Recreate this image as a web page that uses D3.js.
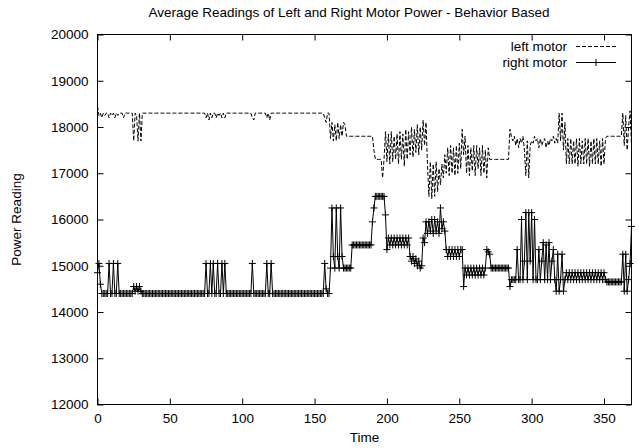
<!DOCTYPE html>
<html>
<head>
<meta charset="utf-8">
<script src="https://cdn.jsdelivr.net/npm/d3@7"></script>
<style>
  body { margin: 0; background: #fff; }
  svg text { font-family: "Liberation Sans", Arial, sans-serif; font-size: 13.5px; fill: #000; }
</style>
</head>
<body>
<div id="target"></div>
<script>
const chartTitle = "Average Readings of Left and Right Motor Power - Behavior Based"
const xLabel = "Time"
const yLabel = "Power Reading"
const seriesNames = ["left motor", "right motor"]
const xTicks = [0, 50, 100, 150, 200, 250, 300, 350]
const yTicks = [12000, 13000, 14000, 15000, 16000, 17000, 18000, 19000, 20000]

// left motor, one reading per time step (t = 0 .. 369)
const leftMotor = [
  18450,18250,18300,18200,18300,18250,18300,18300,18200,18300,18250,18300,18200,18300,18250,18300,18300,18300,18200,18300,18300,18300,18300,18300,
  18300,17700,18300,18250,17700,18300,17700,18300,
  18300,18300,18300,18300,18300,18300,18300,18300,18300,18300,18300,18300,18300,18300,18300,18300,18300,18300,18300,18300,18300,18300,
  18300,18300,18300,18300,18300,18300,18300,18300,18300,18300,18300,18300,18300,18300,18300,18300,18300,18300,18300,18300,18300,
  18200,18300,18150,18300,18200,18300,18300,18200,18300,18250,18300,18200,18300,18200,18300,
  18300,18300,18300,18300,18300,18300,18300,18300,18300,18300,18300,18300,18300,18300,18300,18300,18300,
  18200,18150,18300,
  18300,18300,18300,18300,18300,18300,18300,
  18200,18300,18150,18300,
  18300,18300,18300,18300,18300,18300,18300,18300,18300,18300,18300,18300,18300,18300,18300,18300,18300,18300,
  18300,18300,18300,18300,18300,18300,18300,18300,18300,18300,18300,18300,18300,18300,18300,18300,18300,18300,
  18200,18100,18300,18300,
  17750,18100,17700,18050,17700,18100,17750,18050,17800,18100,18050,17800,17800,17800,17800,
  17800,17800,17800,17800,17800,17800,17800,17800,17800,17800,17800,17800,17800,17800,17800,
  17500,17300,17300,17300,17300,17300,16900,17300,
  17900,17250,17850,17200,17900,17250,17800,17300,17850,17200,17900,17300,17850,17150,17950,
  17300,17900,17400,18000,17350,17950,17450,18050,17400,18000,17500,18150,17600,18100,
  17200,16500,17250,16450,17200,16500,17250,16600,17100,16750,
  17200,16900,17400,17000,17550,16950,17600,17000,17550,16950,17600,17000,17650,17100,17950,17400,17800,
  17000,17600,16950,17550,17050,17600,16950,17600,17100,17550,16950,17600,17000,17500,16900,17550,17300,
  17300,17300,17300,17300,17300,17300,17300,17300,17300,17300,17300,17300,17300,
  17950,17800,17700,17800,17600,17750,17550,17750,17650,17800,17500,16950,17700,16900,17600,17700,17650,17800,17700,17750,
  17550,17750,17600,17700,17750,17550,17700,17600,17750,17700,17800,17650,17750,17650,18300,17700,18300,17500,18100,17200,
  17750,17200,17750,17200,17700,17200,17750,17150,17750,17200,17700,17200,17750,17200,
  17750,17150,17700,17200,17750,17200,17750,17200,17700,17150,17750,17200,17750,
  17800,17800,17800,17800,17800,17800,17800,17800,17800,17800,17800,
  18300,17600,18250,17500,18000,18350,17600
]

// right motor, one reading per time step (t = 0 .. 369)
const rightMotor = [
  14850,15050,14600,14400,14400,14400,14400,14400,15050,14400,14400,15050,14400,14400,15050,14400,14400,14400,14400,14400,14400,14400,14400,14400,14400,
  14550,14450,14550,14450,14550,14450,14400,
  14400,14400,14400,14400,14400,14400,14400,14400,14400,14400,14400,14400,14400,14400,14400,14400,14400,14400,14400,14400,14400,14400,
  14400,14400,14400,14400,14400,14400,14400,14400,14400,14400,14400,14400,14400,14400,14400,14400,14400,14400,14400,14400,14400,
  15050,14400,14400,15050,14400,15050,14400,14400,15050,14400,14400,15050,14400,15050,14400,
  14400,14400,14400,14400,14400,14400,14400,14400,14400,14400,14400,14400,14400,14400,14400,14400,14400,
  15050,14400,14400,
  14400,14400,14400,14400,14400,14400,14400,
  15050,14400,14400,15050,14400,
  14400,14400,14400,14400,14400,14400,14400,14400,14400,14400,14400,14400,14400,14400,14400,14400,14400,14400,
  14400,14400,14400,14400,14400,14400,14400,14400,14400,14400,14400,14400,14400,14400,14400,14400,14400,
  15050,14500,14400,14400,
  14950,16250,15200,14950,16250,15200,14950,16250,15200,14950,14950,14950,14950,14950,14950,
  15450,15450,15450,15450,15450,15450,15450,15450,15450,15450,15450,15450,15450,15450,
  15950,16250,16500,16500,16500,16500,16500,16500,16500,16100,15350,
  15600,15450,15600,15450,15600,15450,15600,15450,15600,15450,15600,15450,15600,15450,
  15600,15200,15100,15200,15050,15150,15000,15100,14950,15000,15600,
  15500,15950,15700,15950,15750,16000,15700,16000,15750,15950,15700,16250,15800,15950,15750,
  15350,15200,15350,15200,15350,15200,15350,15200,15350,15200,15350,15350,
  14550,14950,14800,14950,14800,14950,14800,14950,14800,14950,14800,14950,14800,14950,14800,14950,
  15350,15300,15250,
  14950,14950,14950,14950,14950,14950,14950,14950,14950,14950,14950,14950,14950,
  14550,14700,14700,14700,14700,15350,14700,14700,16000,14700,15100,16150,14700,16150,15100,16150,14700,16000,14700,14700,
  15350,14700,15100,15500,14700,15450,14700,15500,14700,15100,15350,14700,14450,15250,14450,14700,15250,14450,14700,
  14850,14700,14850,14700,14850,14700,14850,14700,14850,14700,14850,14700,14850,14700,
  14850,14700,14850,14700,14850,14700,14850,14700,14850,14700,14850,14700,14850,14700,
  14650,14650,14650,14650,14650,14650,14650,14650,14650,14650,14650,
  15250,14450,15250,14450,14700,15050,15850
]

const width = 639
const height = 448
const plot = { left: 97.5, right: 631.5, top: 34.5, bottom: 404.5 }

const svg = d3.select("#target").append("svg")
    .attr("width", width)
    .attr("height", height)

const x = d3.scaleLinear()
    .domain([0, 369])
    .range([plot.left, plot.right])

const y = d3.scaleLinear()
    .domain([12000, 20000])
    .range([plot.bottom, plot.top])

const tickLen = 6

// axes, ticks pointing inward, mirrored on top and right
svg.append("g")
    .attr("transform", `translate(0,${plot.bottom})`)
    .call(d3.axisBottom(x).tickValues(xTicks).tickSize(-tickLen).tickPadding(9).tickFormat(d3.format("d")))
    .call(g => g.select(".domain").remove())

svg.append("g")
    .attr("transform", `translate(0,${plot.top})`)
    .call(d3.axisTop(x).tickValues(xTicks).tickSize(-tickLen).tickFormat(""))
    .call(g => g.select(".domain").remove())

svg.append("g")
    .attr("transform", `translate(${plot.left},0)`)
    .call(d3.axisLeft(y).tickValues(yTicks).tickSize(-tickLen).tickPadding(9).tickFormat(d3.format("d")))
    .call(g => g.select(".domain").remove())

svg.append("g")
    .attr("transform", `translate(${plot.right},0)`)
    .call(d3.axisRight(y).tickValues(yTicks).tickSize(-tickLen).tickFormat(""))
    .call(g => g.select(".domain").remove())

svg.selectAll(".tick line").attr("stroke", "#000")
svg.selectAll(".tick text").attr("font-size", 13.5).attr("font-family", "Liberation Sans, Arial, sans-serif")

svg.append("rect")
    .attr("x", plot.left)
    .attr("y", plot.top)
    .attr("width", plot.right - plot.left)
    .attr("height", plot.bottom - plot.top)
    .attr("fill", "none")
    .attr("stroke", "#000")

// lines
const line = d3.line()
    .x((d, i) => x(i))
    .y(d => y(d))

svg.append("path")
    .attr("d", line(leftMotor))
    .attr("fill", "none")
    .attr("stroke", "#000")
    .attr("stroke-width", 1)
    .attr("stroke-dasharray", "4,2")

svg.append("path")
    .attr("d", line(rightMotor))
    .attr("fill", "none")
    .attr("stroke", "#000")
    .attr("stroke-width", 1)

const plus = (cx, cy, r) => `M${cx - r},${cy}H${cx + r}M${cx},${cy - r}V${cy + r}`

svg.append("path")
    .attr("d", rightMotor.map((d, i) => plus(x(i), y(d), 3.5)).join(""))
    .attr("fill", "none")
    .attr("stroke", "#000")
    .attr("stroke-width", 1)

// legend
const legend = svg.append("g")
seriesNames.forEach((name, i) => {
    const ly = 46 + i * 16
    legend.append("text")
        .attr("x", 567)
        .attr("y", ly)
        .attr("dy", "0.35em")
        .attr("text-anchor", "end")
        .text(name)
    legend.append("line")
        .attr("x1", 576).attr("x2", 616)
        .attr("y1", ly + 0.5).attr("y2", ly + 0.5)
        .attr("stroke", "#000")
        .attr("stroke-dasharray", i === 0 ? "4,2" : null)
    if (i === 1) {
        legend.append("path")
            .attr("d", plus(596, ly + 0.5, 3.5))
            .attr("stroke", "#000")
    }
})

// titles
svg.append("text")
    .attr("x", 349)
    .attr("y", 17)
    .attr("text-anchor", "middle")
    .text(chartTitle)

svg.append("text")
    .attr("x", (plot.left + plot.right) / 2)
    .attr("y", 442)
    .attr("text-anchor", "middle")
    .text(xLabel)

svg.append("text")
    .attr("transform", `translate(21,${(plot.top + plot.bottom) / 2}) rotate(-90)`)
    .attr("text-anchor", "middle")
    .text(yLabel)
</script>
</body>
</html>
